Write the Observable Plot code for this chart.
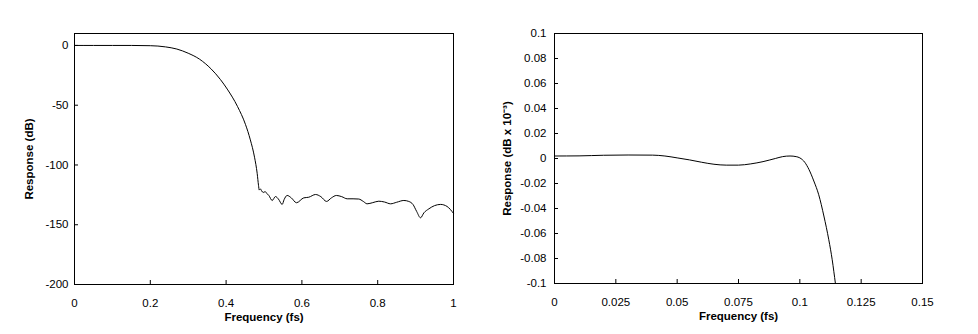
<!DOCTYPE html>
<html><head><meta charset="utf-8">
<script src="https://cdn.jsdelivr.net/npm/d3@7"></script>
<script src="https://cdn.jsdelivr.net/npm/@observablehq/plot@0.6"></script>
<style>
html,body{margin:0;padding:0;background:#fff;}
#wrap{display:flex;width:978px;height:334px;overflow:hidden;}
g[aria-label="x-axis label"] text, g[aria-label="y-axis label"] text{font-weight:bold;}
</style></head><body><div id="wrap"></div>
<script>
// Left chart: full response (dB)
const fullFreq = [0, 0.05, 0.1, 0.15, 0.2, 0.22, 0.24, 0.27, 0.3, 0.33, 0.36, 0.385, 0.403, 0.43, 0.451, 0.464, 0.475, 0.482, 0.4855, 0.4875,
  0.4905, 0.494, 0.498, 0.503, 0.508, 0.5127, 0.5216, 0.5303, 0.538, 0.548, 0.553, 0.561, 0.572, 0.5857, 0.605, 0.618, 0.636, 0.65, 0.665, 0.678, 0.691, 0.705, 0.7195, 0.735, 0.75, 0.762, 0.772, 0.787, 0.803, 0.818, 0.834, 0.85, 0.869, 0.882, 0.893, 0.903, 0.913, 0.922, 0.935, 0.95, 0.966, 0.983, 1];
const fullResp = [0, 0, 0, 0, -0.2, -0.5, -1.2, -3, -6.5, -11.5, -19.5, -28.5, -36.5, -51, -66, -79, -93.5, -107, -117, -121,
  -120, -121.8, -123, -122.3, -124, -125.5, -129.7, -126.4, -128.5, -133, -129, -125.5, -127.5, -131.6, -127.5, -127, -124.7, -126.5, -130.5, -127.5, -125.5, -126.5, -128.3, -128.3, -128.5, -130.5, -132.5, -131.5, -130.3, -131, -132.5, -131.2, -129.7, -130.5, -133, -139, -144.2, -140, -136.7, -134, -133, -134.7, -140.5];
const fullXTicks = [0, 0.2, 0.4, 0.6, 0.8, 1];
const fullXLabels = ["0", "0.2", "0.4", "0.6", "0.8", "1"];
const fullYTicks = [0, -50, -100, -150, -200];
const fullYLabels = ["0", "-50", "-100", "-150", "-200"];

// Right chart: passband detail (dB x 10^-3)
const zoomFreq = [0, 0.01, 0.02, 0.03, 0.04, 0.045, 0.05, 0.055, 0.06, 0.065, 0.07, 0.075, 0.08, 0.085, 0.09, 0.093, 0.096, 0.0985, 0.1, 0.102, 0.1037, 0.1057, 0.1077, 0.1098, 0.1118, 0.1132, 0.1145, 0.1155];
const zoomResp = [0.002, 0.0021, 0.0026, 0.0028, 0.0027, 0.002, 0.0005, -0.0011, -0.003, -0.0046, -0.0053, -0.0053, -0.0043, -0.0025, 0, 0.0015, 0.002, 0.0015, 0.0005, -0.003, -0.0087, -0.018, -0.029, -0.046, -0.065, -0.081, -0.1, -0.115];
const zoomXTicks = [0, 0.025, 0.05, 0.075, 0.1, 0.125, 0.15];
const zoomXLabels = ["0", "0.025", "0.05", "0.075", "0.1", "0.125", "0.15"];
const zoomYTicks = [0.1, 0.08, 0.06, 0.04, 0.02, 0, -0.02, -0.04, -0.06, -0.08, -0.1];
const zoomYLabels = ["0.1", "0.08", "0.06", "0.04", "0.02", "0", "-0.02", "-0.04", "-0.06", "-0.08", "-0.1"];

const fullData = fullFreq.map((f, i) => ({f, r: fullResp[i]}));
const zoomData = zoomFreq.map((f, i) => ({f, r: zoomResp[i]}));
const lab = (ticks, labels) => d => labels[ticks.findIndex(t => Math.abs(t - d) < 1e-9)];

const style = {fontFamily: "'Liberation Sans', Arial, sans-serif", fontSize: "11.5px", color: "#000", background: "#fff", overflow: "visible"};

const c1 = Plot.plot({
  width: 480, height: 334,
  marginLeft: 74, marginRight: 27, marginTop: 33, marginBottom: 50,
  style,
  x: {domain: [0, 1]},
  y: {domain: [-200, 10]},
  marks: [
    Plot.line(fullData, {x: "f", y: "r", stroke: "#000", strokeWidth: 1, curve: "monotone-x"}),
    Plot.frame({stroke: "#000"}),
    Plot.axisX({ticks: fullXTicks, tickFormat: lab(fullXTicks, fullXLabels), tickSize: -4, tickPadding: 18,
      label: "Frequency (fs)", labelAnchor: "center", labelArrow: "none", labelOffset: 36}),
    Plot.axisY({ticks: fullYTicks, tickFormat: lab(fullYTicks, fullYLabels), tickSize: -4, tickPadding: 10,
      label: "Response (dB)", labelAnchor: "center", labelArrow: "none", labelOffset: 50})
  ]
});

const c2 = Plot.plot({
  width: 498, height: 334,
  marginLeft: 74, marginRight: 56, marginTop: 33, marginBottom: 51,
  style,
  x: {domain: [0, 0.15]},
  y: {domain: [-0.1, 0.1]},
  marks: [
    Plot.line(zoomData, {x: "f", y: "r", stroke: "#000", strokeWidth: 1, curve: "monotone-x", clip: true}),
    Plot.frame({stroke: "#000"}),
    Plot.axisX({ticks: zoomXTicks, tickFormat: lab(zoomXTicks, zoomXLabels), tickSize: -4, tickPadding: 18,
      label: "Frequency (fs)", labelAnchor: "center", labelArrow: "none", labelOffset: 36}),
    Plot.axisY({ticks: zoomYTicks, tickFormat: lab(zoomYTicks, zoomYLabels), tickSize: -4, tickPadding: 12,
      label: "Response (dB x 10\u207B\u00B3)", labelAnchor: "center", labelArrow: "none", labelOffset: 52})
  ]
});

const wrap = document.getElementById("wrap");
wrap.appendChild(c1);
wrap.appendChild(c2);
</script></body></html>
